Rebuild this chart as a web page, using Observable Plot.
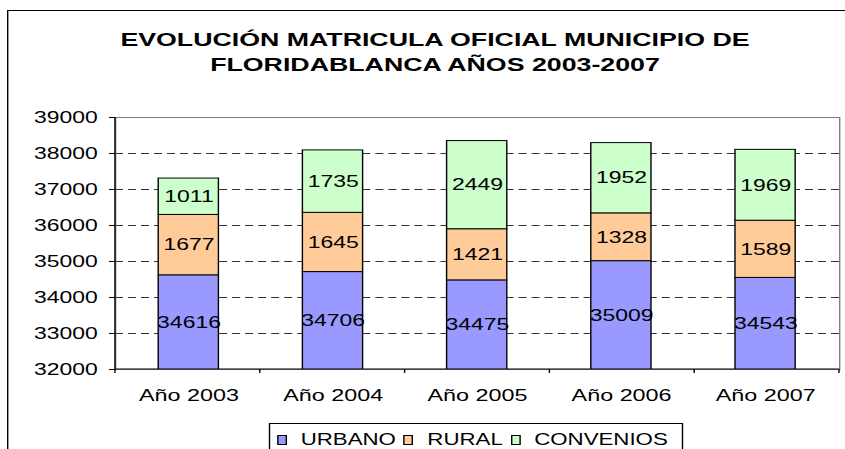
<!DOCTYPE html>
<html><head><meta charset="utf-8">
<script src="https://cdn.jsdelivr.net/npm/d3@7"></script>
<script src="https://cdn.jsdelivr.net/npm/@observablehq/plot@0.6"></script>
<style>
html,body{margin:0;padding:0;background:#fff;overflow:hidden}
#page{position:relative;width:845px;height:449px;overflow:hidden;background:#fff}
#inner{position:absolute;left:0;top:0;width:603.6px;height:449px;transform:scaleX(1.4);transform-origin:0 0;font-family:"Liberation Sans",Arial,sans-serif;color:#000}
#border{position:absolute;left:5.4px;top:10px;width:700px;height:600px;border-left:1px solid #000;border-top:1px solid #000}
#title{position:absolute;left:0;top:27px;width:621.4px;text-align:center;font-weight:bold;font-size:19.1px;line-height:25px;white-space:nowrap}
#chart{position:absolute;left:0;top:100px}
#legend{position:absolute;left:192.1px;top:423px;width:295.7px;height:40px;box-sizing:border-box;border:1px solid #000;padding:6.5px 0 0 4.7px;display:flex;align-items:flex-start;font-size:15.9px;line-height:18px;white-space:nowrap}
#legend .sw{display:inline-block;box-sizing:border-box;width:7.2px;height:10px;border:1px solid #000;margin-top:4.5px;margin-right:9.8px}
#legend .it{display:flex;margin-right:5.5px}
</style></head>
<body>
<div id="page"><div id="inner">
<div id="border"></div>
<div id="title">EVOLUCIÓN MATRICULA OFICIAL MUNICIPIO DE<br>FLORIDABLANCA AÑOS 2003-2007</div>
<div id="chart"></div>
<div id="legend"></div>
</div></div>
<script>
const years = ["Año 2003", "Año 2004", "Año 2005", "Año 2006", "Año 2007"];
const urbano = [34616, 34706, 34475, 35009, 34543];
const rural = [1677, 1645, 1421, 1328, 1589];
const convenios = [1011, 1735, 2449, 1952, 1969];
const series = ["URBANO", "RURAL", "CONVENIOS"];
const colors = ["#9999FF", "#FFCC99", "#CCFFCC"];
const yTicks = [32000, 33000, 34000, 35000, 36000, 37000, 38000, 39000];
const yMin = 32000, yMax = 39000;

const rows = [];
years.forEach((yr, i) => {
  let base = 0;
  [urbano, rural, convenios].forEach((arr, j) => {
    const v = arr[i];
    const y1 = base, y2 = base + v;
    base = y2;
    rows.push({year: yr, serie: series[j], value: v, y1, y2, mid: (Math.max(y1, yMin) + y2) / 2});
  });
});

function axisLines(index, scales, values, dims) {
  const {width, height, marginLeft, marginRight, marginTop, marginBottom} = dims;
  const x0 = marginLeft, x1 = width - marginRight, y0 = marginTop, yb = height - marginBottom;
  const g = d3.create("svg:g").attr("stroke", "#000").attr("stroke-width", 1);
  g.append("line").attr("x1", x0).attr("x2", x0).attr("y1", y0).attr("y2", yb);
  g.append("line").attr("x1", x0).attr("x2", x1).attr("y1", yb).attr("y2", yb);
  const n = years.length;
  for (let i = 0; i <= n; i++) {
    const x = x0 + i * (x1 - x0) / n;
    g.append("line").attr("x1", x).attr("x2", x).attr("y1", yb).attr("y2", yb + 4);
  }
  return g.node();
}

const chart = Plot.plot({
  width: 603.6,
  height: 310,
  marginLeft: 82.1,
  marginRight: 4.3,
  marginTop: 17,
  marginBottom: 41,
  style: {fontFamily: '"Liberation Sans", Arial, sans-serif', fontSize: "16.4px", color: "#000", background: "transparent", overflow: "visible"},
  x: {domain: years, paddingInner: 0.585, paddingOuter: 0.2925, axis: null},
  y: {domain: [yMin, yMax], axis: null},
  color: {domain: series, range: colors},
  marks: [
    Plot.gridY(yTicks.filter(t => t > yMin && t < yMax), {stroke: "#333", strokeOpacity: 1, strokeDasharray: "5.7,3.6"}),
    Plot.frame({stroke: "#808080"}),
    Plot.barY(rows, {x: "year", y1: "y1", y2: "y2", fill: "serie", stroke: "#000", strokeWidth: 1, clip: true}),
    Plot.text(rows, {x: "year", y: "mid", text: d => String(d.value), fill: "#000", fontSize: 16.4}),
    Plot.axisY({ticks: yTicks, tickSize: 4.3, tickPadding: 8.5, tickFormat: d => String(d), fontSize: 16.4, label: null}),
    Plot.axisX({tickSize: 0, tickPadding: 20, fontSize: 16.7, label: null}),
    axisLines
  ]
});
document.getElementById("chart").appendChild(chart);

const legend = document.getElementById("legend");
series.forEach((s, i) => {
  const it = document.createElement("div");
  it.className = "it";
  const sw = document.createElement("span");
  sw.className = "sw";
  sw.style.background = colors[i];
  const t = document.createElement("span");
  t.textContent = s;
  it.appendChild(sw); it.appendChild(t);
  legend.appendChild(it);
});
</script>
</body></html>
